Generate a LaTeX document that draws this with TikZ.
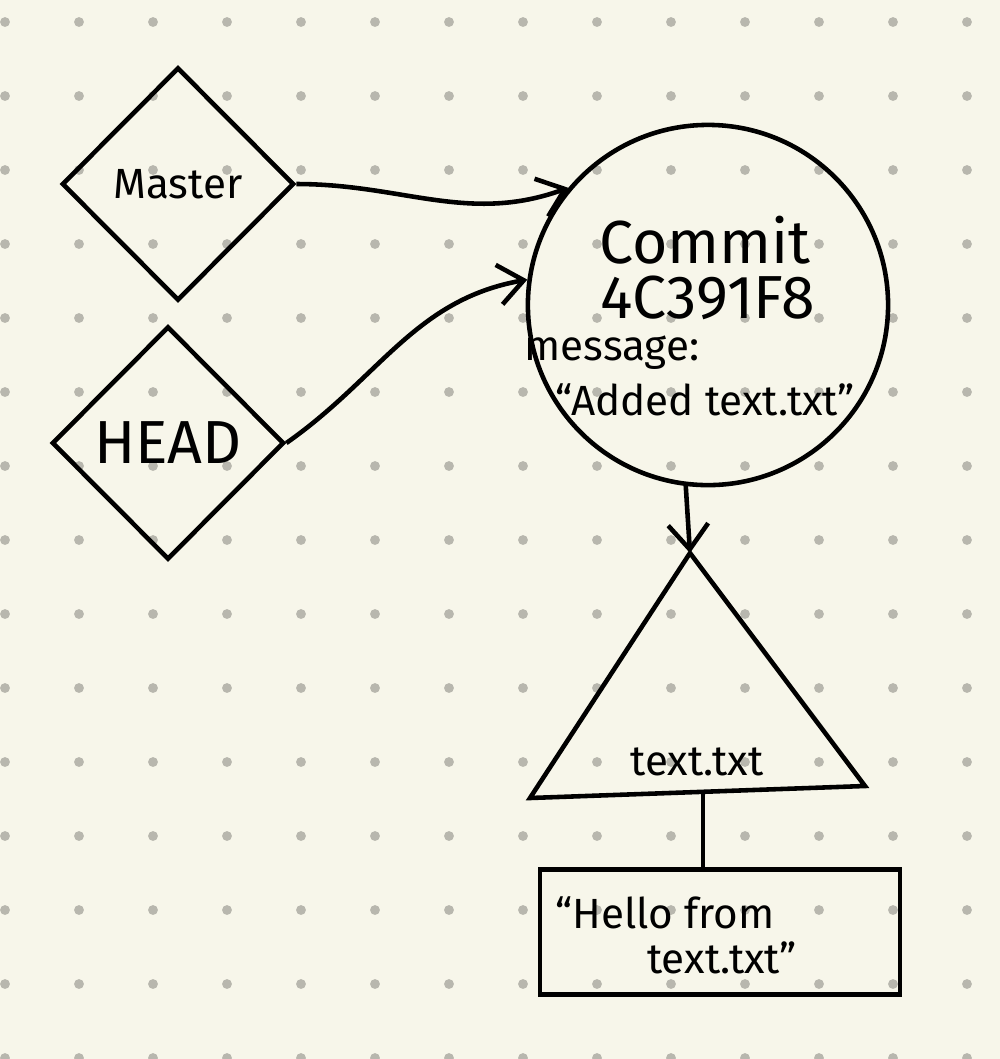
\documentclass[tikz,border=0pt]{standalone}
\usepackage{fontspec}
\setmainfont{Fira Sans}
\usetikzlibrary{shapes.geometric,arrows.meta}
\definecolor{paper}{HTML}{F7F6EA}
\definecolor{dotgrey}{HTML}{B8B7AE}
\begin{document}
\begin{tikzpicture}[x=0.01cm,y=-0.01cm,
    line width=1.3pt,
    every node/.style={font=\large},
    refnode/.style={draw,diamond,minimum width=2.32cm,minimum height=2.33cm,inner sep=0pt},
    commitnode/.style={draw,circle,minimum size=3.6cm,inner sep=0pt},
    blobnode/.style={draw,rectangle,minimum width=3.6cm,minimum height=1.25cm},
    arr/.style={-{Straight Barb[length=2.5mm,width=4mm]}}]
    % paper
    \fill[paper] (0,0) rectangle (1000,1059);
    \useasboundingbox (0,0) rectangle (1000,1059);
    \foreach \i in {0,...,13}
        \foreach \j in {0,...,14}
            \fill[dotgrey] (5+74*\i,22+74*\j) circle (1.4pt);

    %% refs
    \node [refnode] (master) at (178,184) {Master};
    \node [refnode] (head) at (168,443) {\LARGE HEAD};

    %% commit
    \node [commitnode] (commit) at (708,305) {};
    \node (ctitle) at (705,240) {\LARGE Commit};
    \node (chash) at (708,298) {\LARGE 4C391F8};
    \node (cmsg) at (612,353) {message:};
    \node (ctext) at (705,400) {``Added text.txt''};

    %% tree
    \coordinate (apex) at (690,553);
    \coordinate (base) at (703,792);
    \draw (apex) -- (865,786) -- (530,798) -- cycle;
    \node (tree) at (697,762) {text.txt};

    %% blob
    \node [blobnode] (blob) at (720,932) {};
    \node (btext1) at (665,913) {``Hello from};
    \node (btext2) at (722,958) {text.txt''};

    \draw[arr] (master.east) to[out=0,in=200] (commit.140);
    \draw[arr] (head.east) to[out=35,in=190] (commit.172);
    \draw[arr] (commit.263) -- (apex);
    \draw (base) -- (blob.north -| base);
\end{tikzpicture}
\end{document}
